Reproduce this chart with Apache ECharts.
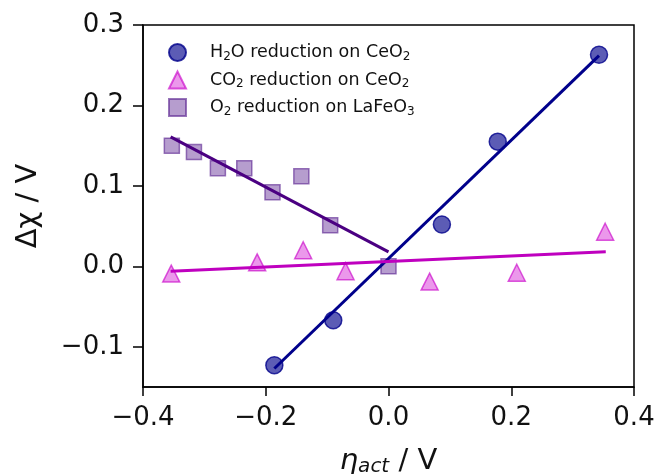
<!doctype html>
<html>

<head>
    <meta charset="utf-8">
    <script src="https://cdn.jsdelivr.net/npm/echarts@6/dist/echarts.min.js"></script>
    <style>
        body {
            margin: 0;
            background: #fff;
        }

        #chart {
            width: 658px;
            height: 474px;
        }
    </style>
</head>

<body>
    <div id="chart"></div>
</body>

<script type="text/javascript">
    // 读图得到的数据点
    var h2oX = [-0.186, -0.090, 0.087, 0.178, 0.343];
    var h2oY = [-0.123, -0.067, 0.052, 0.155, 0.263];
    var co2X = [-0.354, -0.214, -0.139, -0.070, 0.067, 0.209, 0.353];
    var co2Y = [-0.009, 0.005, 0.020, -0.006, -0.019, -0.008, 0.043];
    var o2X = [-0.353, -0.317, -0.278, -0.235, -0.189, -0.142, -0.095, 0.0];
    var o2Y = [0.150, 0.142, 0.122, 0.122, 0.092, 0.112, 0.051, 0.0];

    // 拟合直线的两个端点
    var h2oFitX = [-0.186, 0.343];
    var h2oFitY = [-0.127, 0.262];
    var co2FitX = [-0.355, 0.354];
    var co2FitY = [-0.006, 0.018];
    var o2FitX = [-0.355, 0.0];
    var o2FitY = [0.161, 0.018];

    var xTicks = [-0.4, -0.2, 0.0, 0.2, 0.4];
    var yTicks = [-0.1, 0.0, 0.1, 0.2, 0.3];

    function pairs(xs, ys) {
        return xs.map(function (x, i) { return [x, ys[i]]; });
    }

    function fmt(v) {
        return Number(v).toFixed(1).replace('-', '\u2212');
    }

    var font = 'DejaVu Sans';
    var subStyle = { fontFamily: font, fontSize: 12, color: '#111', padding: [8, 0, 0, 0] };
    var txtStyle = { fontFamily: font, fontSize: 17.5, color: '#111' };
    var gapStyle = { width: 19 };

    var chart = echarts.init(document.getElementById('chart'));

    var option = {
        animation: false,
        grid: {
            left: 143, top: 25, width: 491, height: 362,
            outerBoundsMode: 'none',
            show: true, borderColor: '#000', borderWidth: 1.5
        },
        legend: {
            orient: 'vertical',
            left: 163, top: 38,
            itemWidth: 17, itemHeight: 17, itemGap: 8,
            data: ['h2o', 'co2', 'o2'],
            formatter: function (name) {
                if (name === 'h2o') return '{g|}{t|H}{s|2}{t|O reduction on CeO}{s|2}';
                if (name === 'co2') return '{g|}{t|CO}{s|2}{t| reduction on CeO}{s|2}';
                return '{g|}{t|O}{s|2}{t| reduction on LaFeO}{s|3}';
            },
            textStyle: {
                rich: { t: txtStyle, s: subStyle, g: gapStyle }
            }
        },
        xAxis: {
            type: 'value',
            min: -0.4, max: 0.4, interval: 0.2,
            splitLine: { show: false },
            axisLine: { show: true, onZero: false, lineStyle: { color: '#000', width: 1.5 } },
            axisTick: { show: true, length: 9, lineStyle: { color: '#000', width: 1.5 } },
            axisLabel: {
                fontFamily: font, fontSize: 26, color: '#111', margin: 18,
                formatter: fmt
            },
            name: '{i|\u03b7}{s|act}{t| / V}',
            nameLocation: 'middle',
            nameGap: 58,
            nameTextStyle: {
                rich: {
                    i: { fontFamily: font, fontSize: 29, fontStyle: 'italic', color: '#111' },
                    s: { fontFamily: font, fontSize: 20, fontStyle: 'italic', color: '#111', padding: [12, 0, 0, 0] },
                    t: { fontFamily: font, fontSize: 29, color: '#111' }
                }
            }
        },
        yAxis: {
            type: 'value',
            min: -0.15, max: 0.3,
            splitLine: { show: false },
            axisLine: { show: true, onZero: false, lineStyle: { color: '#000', width: 1.5 } },
            axisTick: {
                show: true, length: 10, customValues: yTicks,
                lineStyle: { color: '#000', width: 1.5 }
            },
            axisLabel: {
                fontFamily: font, fontSize: 26, color: '#111', margin: 19,
                customValues: yTicks,
                formatter: fmt
            },
            name: '\u0394\u03c7 / V',
            nameLocation: 'middle',
            nameGap: 100,
            nameTextStyle: { fontFamily: font, fontSize: 29, color: '#111' }
        },
        series: [
            {
                name: 'h2o', type: 'scatter', symbol: 'circle', symbolSize: 17,
                data: pairs(h2oX, h2oY),
                itemStyle: { color: 'rgba(0,0,139,0.8)', borderColor: '#00008B', borderWidth: 1.5 },
                z: 2
            },
            {
                name: 'co2', type: 'scatter', symbol: 'triangle', symbolSize: 17,
                data: pairs(co2X, co2Y),
                itemStyle: { color: 'rgba(214,40,214,0.6)', borderColor: 'rgba(200,0,200,0.8)', borderWidth: 1.5 },
                z: 2
            },
            {
                name: 'o2', type: 'scatter', symbol: 'rect', symbolSize: 15,
                data: pairs(o2X, o2Y),
                itemStyle: { color: 'rgba(102,51,153,0.6)', borderColor: 'rgba(102,51,153,0.85)', borderWidth: 1.5 },
                z: 2
            },
            {
                name: 'h2oFit', type: 'line', showSymbol: false, symbol: 'none',
                data: pairs(h2oFitX, h2oFitY),
                lineStyle: { color: '#00008B', width: 3 }, z: 5
            },
            {
                name: 'co2Fit', type: 'line', showSymbol: false, symbol: 'none',
                data: pairs(co2FitX, co2FitY),
                lineStyle: { color: '#BF00BF', width: 3 }, z: 5
            },
            {
                name: 'o2Fit', type: 'line', showSymbol: false, symbol: 'none',
                data: pairs(o2FitX, o2FitY),
                lineStyle: { color: '#4B0082', width: 3 }, z: 5
            }
        ]
    };

    chart.setOption(option);
</script>

</html>
